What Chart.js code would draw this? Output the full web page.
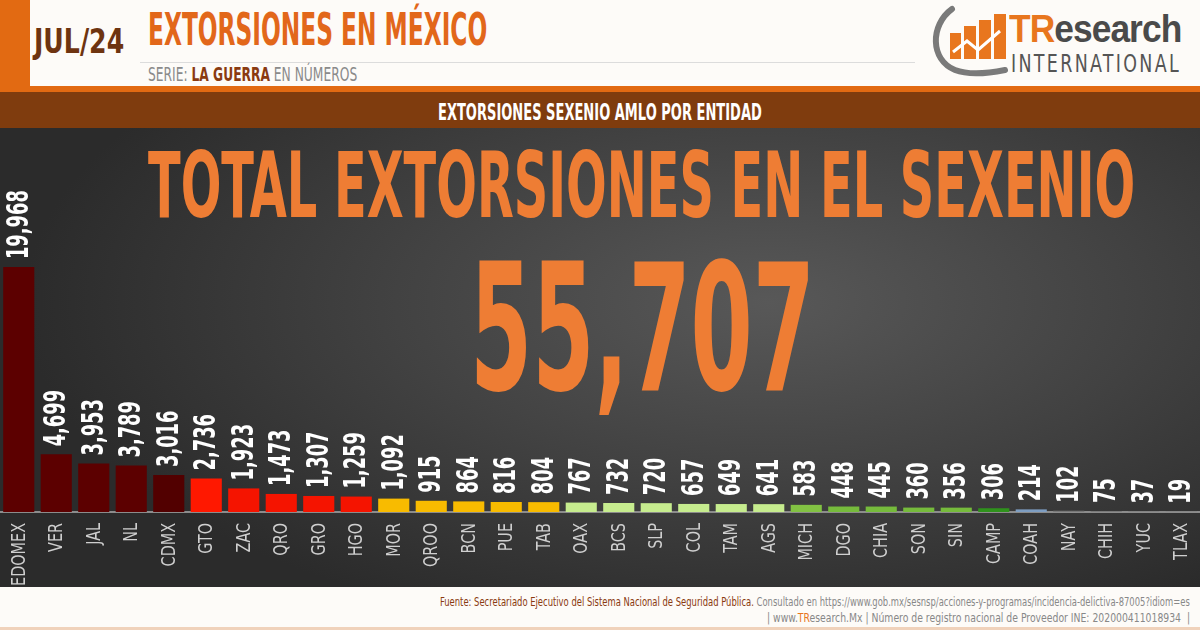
<!DOCTYPE html>
<html>
<head>
<meta charset="utf-8">
<script src="https://cdn.jsdelivr.net/npm/chart.js@4.4.1/dist/chart.umd.min.js"></script>
<style>
  html, body { margin: 0; padding: 0; }
  body { width: 1200px; height: 630px; position: relative; overflow: hidden; background: #fdfbf8;
         font-family: 'Liberation Sans Narrow', 'DejaVu Sans Condensed', sans-serif; }
  .abs { position: absolute; white-space: nowrap; line-height: 1; }
  .fit { display: inline-block; }
  #strip { left: 0; top: 0; width: 30px; height: 92px; background: #e26a12; }
  #hline { left: 140px; top: 62px; width: 775px; height: 1px; background: #dcdcdc; }
  #oline { left: 0; top: 86px; width: 1200px; height: 6px; background: #e26a12; }
  #band { left: 0; top: 92px; width: 1200px; height: 36px; background: #7f3c0e; }
  #panel { position: absolute; left: 0; top: 128px; width: 1200px; height: 459px;
           background: radial-gradient(ellipse 62% 75% at 64% 38%, #585858 0%, #424242 50%, #2b2b2b 100%); }
  #footline { left: 0; top: 627px; width: 1200px; height: 3px; background: #f0d2bb; }
</style>
</head>
<body>
<div class="abs" id="strip"></div>
<div class="abs" id="hline"></div>
<div class="abs" id="oline"></div>
<div class="abs" id="band"></div>

<div class="abs fit" data-w="90" style="left:34px; top:25px; font-size:33px; font-weight:bold; color:#6e3410;">JUL/24</div>
<div class="abs fit" data-w="339" style="left:148px; top:8px; font-size:44px; font-weight:bold; color:#e2671a;">EXTORSIONES EN MÉXICO</div>
<div class="abs fit" data-w="209" style="left:148px; top:65px; font-size:19px; color:#8a8a8a;">SERIE: <b style="color:#8a3a10">LA GUERRA</b> EN NÚMEROS</div>

<svg class="abs" style="left:930px; top:0px;" width="80" height="80" viewBox="930 0 80 80">
  <path d="M952,9 C930,25 930,60 955,70 C968,75 985,74 1005,70" fill="none" stroke="#7a7a7a" stroke-width="6" stroke-linecap="round"/>
  <rect x="950" y="33" width="11" height="26" fill="#e8761e"/>
  <rect x="964" y="26" width="12" height="33" fill="#e8761e"/>
  <rect x="979" y="20" width="12" height="39" fill="#e8761e"/>
  <rect x="994" y="14" width="12" height="45" fill="#e8761e"/>
  <polyline points="953,52 967,41 978,50 1000,31" fill="none" stroke="#ffffff" stroke-width="3"/>
</svg>
<div class="abs fit" data-w="172" style="left:1009px; top:10px; font-size:38px; font-weight:bold; font-family:'Liberation Sans','DejaVu Sans',sans-serif; letter-spacing:-1px;"><span style="color:#e8761e">TR</span><span style="color:#4a4a4a">esearch</span></div>
<div class="abs fit" data-w="170" style="left:1011px; top:51px; font-size:25px; color:#555; letter-spacing:3px;">INTERNATIONAL</div>

<div class="abs fit" data-w="324" style="left:438px; top:101px; font-size:23px; font-weight:bold; color:#ffffff;">EXTORSIONES SEXENIO AMLO POR ENTIDAD</div>

<div id="panel">
  <canvas id="grafico"></canvas>
</div>

<div class="abs fit" data-w="987" style="left:148px; top:141px; font-size:90px; font-weight:bold; color:#ee7d34;">TOTAL EXTORSIONES EN EL SEXENIO</div>
<div class="abs fit" id="total" data-w="345" style="left:470px; top:242px; font-size:176px; font-weight:bold; color:#ee7d34;"></div>

<div class="abs fit" data-w="750" data-right="1" style="right:10px; top:595px; font-size:13px; color:#888;"><span style="color:#8a3a10">Fuente: Secretariado Ejecutivo del Sistema Nacional de Seguridad Pública.</span> Consultado en https://www.gob.mx/sesnsp/acciones-y-programas/incidencia-delictiva-87005?idiom=es</div>
<div class="abs fit" data-w="423" data-right="1" style="right:10px; top:611px; font-size:13px; color:#888;">| www.<span style="color:#e8761e">TR</span>esearch.Mx | Número de registro nacional de Proveedor INE: 202000411018934 &nbsp;|</div>
<div class="abs" id="footline"></div>

<script>
// datos
const entidades = ['EDOMEX', 'VER', 'JAL', 'NL', 'CDMX', 'GTO', 'ZAC', 'QRO', 'GRO', 'HGO', 'MOR', 'QROO', 'BCN', 'PUE', 'TAB', 'OAX',
                   'BCS', 'SLP', 'COL', 'TAM', 'AGS', 'MICH', 'DGO', 'CHIA', 'SON', 'SIN', 'CAMP', 'COAH', 'NAY', 'CHIH', 'YUC', 'TLAX'];
const extorsiones = [19968, 4699, 3953, 3789, 3016, 2736, 1923, 1473, 1307, 1259, 1092, 915, 864, 816, 804, 767,
                     732, 720, 657, 649, 641, 583, 448, 445, 360, 356, 306, 214, 102, 75, 37, 19];
const totalSexenio = '55,707';

// colores por grupo
const colores = ['#5c0000', '#5c0000', '#5c0000', '#5c0000', '#520000',
                 '#ff1800', '#f51400', '#f51400', '#f51400', '#f51400',
                 '#f8bb00', '#f8bb00', '#f8bb00', '#f8bb00', '#f8bb00',
                 '#c6ec8e', '#c6ec8e', '#c6ec8e', '#c6ec8e', '#c6ec8e', '#c6ec8e',
                 '#82c243', '#76bb3c', '#76bb3c', '#76bb3c', '#76bb3c', '#2f921c',
                 '#7e9ec2', '#777777', '#777777', '#777777', '#777777'];

const fuente = "'Liberation Sans Narrow', 'DejaVu Sans Condensed', sans-serif";

document.getElementById('total').textContent = totalSexenio;

// ajusta el ancho de los textos (fuente condensada)
document.querySelectorAll('.fit').forEach(el => {
    let w = parseFloat(el.dataset.w);
    let s = w / el.offsetWidth;
    el.style.transformOrigin = el.dataset.right ? 'right top' : 'left top';
    el.style.transform = 'scaleX(' + s + ')';
});

// etiquetas giradas: valor sobre cada barra y entidad bajo el eje
const etiquetas = {
    id: 'etiquetas',
    afterDatasetsDraw(chart) {
        let ctx = chart.ctx;
        let meta = chart.getDatasetMeta(0);
        let ejeX = chart.scales.x;
        ctx.save();
        ctx.textBaseline = 'middle';
        meta.data.forEach((barra, i) => {
            // valor
            ctx.save();
            ctx.fillStyle = '#ffffff';
            ctx.font = 'bold 31px ' + fuente;
            ctx.textAlign = 'left';
            ctx.translate(barra.x + 1, barra.y - 8);
            ctx.rotate(-Math.PI / 2);
            ctx.scale(0.64, 1);
            ctx.fillText(extorsiones[i].toLocaleString('en-US'), 0, 0);
            ctx.restore();
            // entidad
            ctx.save();
            ctx.fillStyle = '#cfcfcf';
            ctx.font = '20px ' + fuente;
            ctx.textAlign = 'right';
            ctx.translate(ejeX.getPixelForValue(i) + 1, ejeX.top + 11);
            ctx.rotate(-Math.PI / 2);
            ctx.scale(0.8, 1);
            ctx.fillText(chart.data.labels[i], 0, 0);
            ctx.restore();
        });
        ctx.restore();
    }
};

new Chart(document.getElementById('grafico'), {
    type: 'bar',
    data: {
        labels: entidades,
        datasets: [{
            data: extorsiones,
            backgroundColor: colores,
            borderWidth: 0,
            barPercentage: 0.83,
            categoryPercentage: 1
        }]
    },
    options: {
        responsive: true,
        maintainAspectRatio: false,
        animation: false,
        layout: { padding: { top: 16, left: 0, right: 0, bottom: 0 } },
        plugins: {
            legend: { display: false },
            tooltip: { enabled: false }
        },
        scales: {
            x: {
                grid: { display: false, drawTicks: false },
                border: { display: true, color: '#8c8c8c', width: 2 },
                ticks: { display: false },
                afterFit(scale) { scale.height = 75; }
            },
            y: { display: false, min: 0, max: 30000 }
        }
    },
    plugins: [etiquetas]
});
</script>
</body>
</html>
